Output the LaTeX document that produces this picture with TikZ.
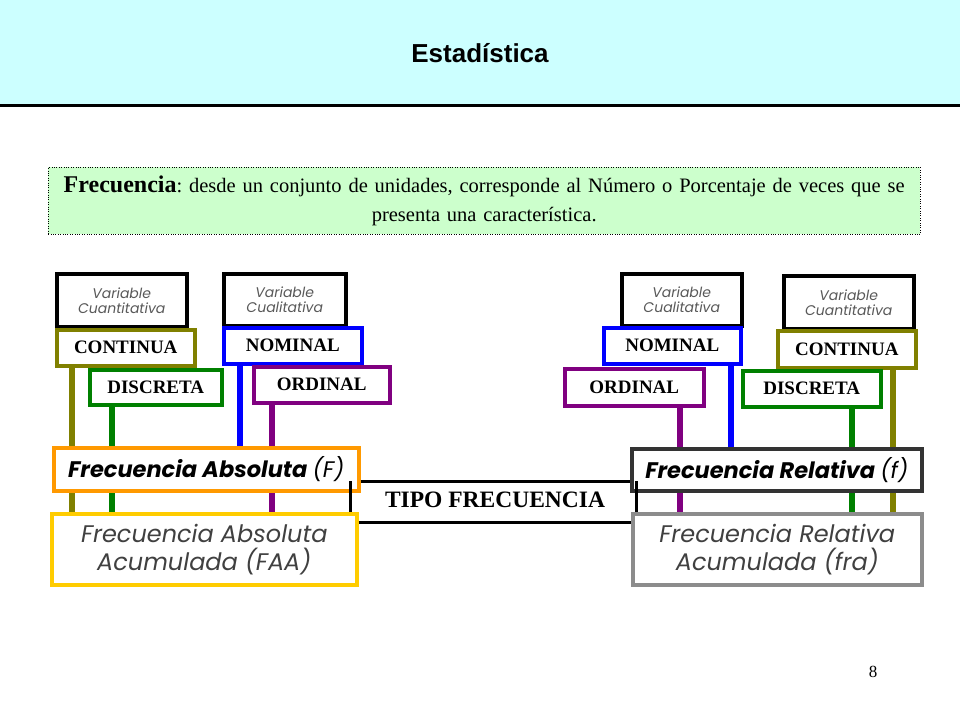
\documentclass[tikz,border=0pt]{standalone}
\usepackage{fontspec}
\setmainfont{Liberation Serif}
\newfontfamily\gothic{Poppins}
\newfontfamily\arial{Liberation Sans}
\definecolor{cyanbg}{HTML}{CCFFFF}
\definecolor{greenbg}{HTML}{CCFFCC}
\definecolor{olive}{HTML}{808000}
\definecolor{dgreen}{HTML}{008000}
\definecolor{vblue}{HTML}{0000FF}
\definecolor{vpurple}{HTML}{800080}
\definecolor{vorange}{HTML}{FF9900}
\definecolor{vyellow}{HTML}{FFCC00}
\tikzset{
 bx/.style={draw, line width=3.5pt, fill=white, anchor=north west, inner sep=0pt, align=center},
 varbox/.style={bx, draw=black, font=\gothic\itshape\fontsize{14}{15}\selectfont, text=black!65},
 typ/.style={bx, font=\bfseries\fontsize{19}{21}\selectfont},
 big/.style={bx, font=\gothic\bfseries\itshape\fontsize{22.5}{26}\selectfont},
 acc/.style={bx, font=\gothic\itshape\fontsize{24}{28}\selectfont, text=black!75},
 vl/.style={line width=6pt},
}
\begin{document}
\begin{tikzpicture}[x=1pt,y=-1pt]
\useasboundingbox (0,0) rectangle (960,720);
\fill[cyanbg] (0,0) rectangle (960,104);
\draw[line width=3pt] (0,105) -- (960,105);
\node[font=\arial\bfseries\fontsize{26}{30}\selectfont] (title) at (480,53) {Estadística};
\node[draw, dotted, fill=greenbg, anchor=north west, minimum width=872, minimum height=67, text width=864, align=center, inner sep=4pt, font=\fontsize{20.5}{29}\selectfont] (def) at (48,167) {\textbf{\fontsize{24}{29}\selectfont Frecuencia}:~desde un conjunto de unidades, corresponde al Número o Porcentaje de veces que se\\presenta una característica.};
% left
\node[varbox, minimum width=130, minimum height=53] (vq1) at (55,272) {Variable\\Cuantitativa};
\node[varbox, minimum width=122, minimum height=52] (vc1) at (222,272) {Variable\\Cualitativa};
\node[typ, draw=olive, minimum width=138, minimum height=36] (co1) at (55,328) {CONTINUA};
\node[typ, draw=dgreen, minimum width=132, minimum height=35] (di1) at (88,368) {DISCRETA};
\node[typ, draw=vblue, minimum width=138, minimum height=36] (no1) at (222,326) {NOMINAL};
\node[typ, draw=vpurple, minimum width=136, minimum height=36] (or1) at (252,365) {ORDINAL};
\node[acc, draw=vyellow, minimum width=305, minimum height=71] (faa) at (50,512) {Frecuencia Absoluta\\Acumulada (FAA)};
% right
\node[varbox, minimum width=120, minimum height=52] (vc2) at (620,272) {Variable\\Cualitativa};
\node[varbox, minimum width=130, minimum height=53] (vq2) at (782,274) {Variable\\Cuantitativa};
\node[typ, draw=vblue, minimum width=137, minimum height=36] (no2) at (602,326) {NOMINAL};
\node[typ, draw=vpurple, minimum width=139, minimum height=37] (or2) at (563,367) {ORDINAL};
\node[typ, draw=olive, minimum width=138, minimum height=37] (co2) at (776,329) {CONTINUA};
\node[typ, draw=dgreen, minimum width=138, minimum height=36] (di2) at (741,369) {DISCRETA};
\node[acc, draw=black!45, minimum width=289, minimum height=71] (fra) at (631,512) {Frecuencia Relativa\\Acumulada (fra)};
% connectors
\draw[vl, olive] (co1.south -| 72,0) -- (faa.north -| 72,0);
\draw[vl, dgreen] (di1.south -| 112,0) -- (faa.north -| 112,0);
\draw[vl, vpurple] (or1.south -| 272,0) -- (faa.north -| 272,0);
\draw[vl, vpurple] (or2.south -| 680,0) -- (fra.north -| 680,0);
\draw[vl, dgreen] (di2.south -| 852,0) -- (fra.north -| 852,0);
\draw[vl, olive] (co2.south -| 893,0) -- (fra.north -| 893,0);
\node[big, draw=vorange, minimum width=305, minimum height=43] (fa) at (52,446) {Frecuencia Absoluta {\mdseries(F)}};
\node[big, draw=black!80, minimum width=290, minimum height=42] (fr) at (630,447) {Frecuencia Relativa {\mdseries(f)}};
\draw[vl, vblue] (no1.south -| 240,0) -- (fa.north -| 240,0);
\draw[vl, vblue] (no2.south -| 731,0) -- (fr.north -| 731,0);
% tipo
\node[font=\bfseries\fontsize{23.5}{26}\selectfont] (tipo) at (495,500) {TIPO FRECUENCIA};
\draw[line width=3pt] (fa.east |- 0,481) -- (fr.west |- 0,481);
\draw[line width=3pt] (faa.east |- 0,522) -- (fra.west |- 0,522);
\draw[line width=3pt] (350,481) -- (350,512);
\draw[line width=3pt] (636,481) -- (636,512);
\node[font=\fontsize{17}{20}\selectfont] (pg) at (873,672) {8};
\end{tikzpicture}
\end{document}
